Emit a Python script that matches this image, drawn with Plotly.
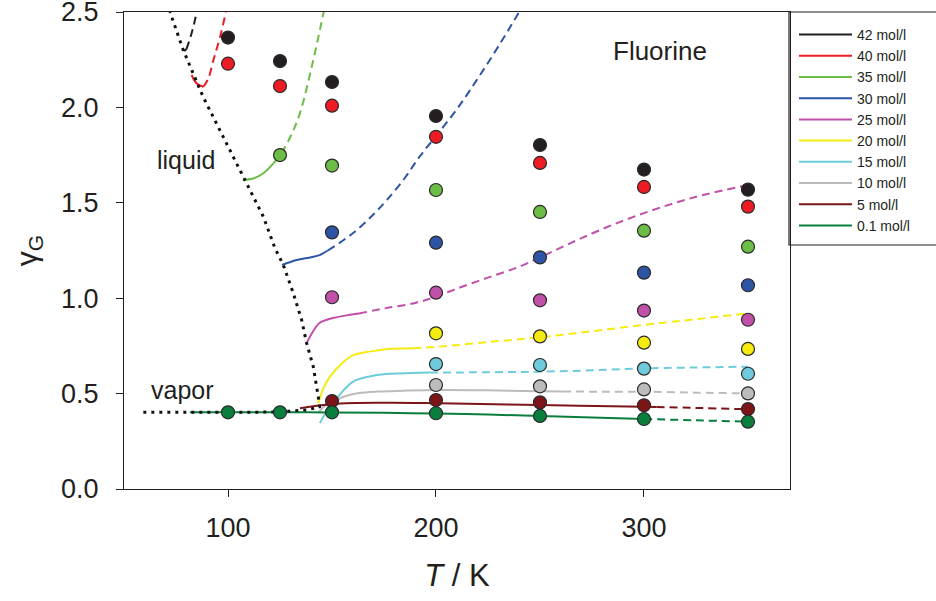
import plotly.graph_objects as go

# ---------------- data ----------------
T_POINTS = [100, 125, 150, 200, 250, 300, 350]

SERIES_NAMES = ["42 mol/l", "40 mol/l", "35 mol/l", "30 mol/l", "25 mol/l",
                "20 mol/l", "15 mol/l", "10 mol/l", "5 mol/l", "0.1 mol/l"]
SERIES_COLORS = ["#231f20", "#ed1c24", "#6cbd45", "#2e55a5", "#c050a8",
                 "#f5eb10", "#6dcbdc", "#bcbcbc", "#7d1518", "#0a7f3d"]

# simulation points (gamma_G at T_POINTS)
pts_42 = [2.366, 2.243, 2.133, 1.955, 1.803, 1.674, 1.569]
pts_40 = [2.229, 2.112, 2.009, 1.846, 1.709, 1.583, 1.480]
pts_35 = [None, 1.750, 1.695, 1.567, 1.452, 1.354, 1.270]
pts_30 = [None, None, 1.345, 1.291, 1.214, 1.134, 1.068]
pts_25 = [None, None, 1.005, 1.029, 0.989, 0.935, 0.887]
pts_20 = [None, None, None, 0.816, 0.800, 0.767, 0.734]
pts_15 = [None, None, None, 0.655, 0.650, 0.631, 0.604]
pts_10 = [None, None, None, 0.545, 0.538, 0.522, 0.501]
pts_5 = [None, None, 0.461, 0.466, 0.454, 0.439, 0.419]
pts_01 = [0.402, 0.402, 0.402, 0.397, 0.383, 0.367, 0.353]

# model curves: solid part (T, gamma) and dashed part (T, gamma)
c42_sol_T = [78.5, 79.3, 80.0]
c42_sol_g = [2.300, 2.298, 2.305]
c42_das_T = [80.0, 82.0, 83.5, 85.0]
c42_das_g = [2.305, 2.37, 2.43, 2.50]

c40_sol_T = [82.5, 85.0, 88.1]
c40_sol_g = [2.170, 2.125, 2.108]
c40_das_T = [88.1, 90.5, 93.0, 96.2, 99.0]
c40_das_g = [2.108, 2.150, 2.248, 2.370, 2.500]

c35_sol_T = [107.2, 112.0, 117.0, 121.8]
c35_sol_g = [1.620, 1.627, 1.655, 1.707]
c35_das_T = [121.8, 125.0, 130.0, 134.6, 140.2, 146.0]
c35_das_g = [1.707, 1.750, 1.846, 1.970, 2.210, 2.500]

c30_sol_T = [126.0, 133.0, 140.0, 144.0, 148.0]
c30_sol_g = [1.174, 1.200, 1.215, 1.226, 1.250]
c30_das_T = [148.0, 160.0, 170.0, 176.4, 185.0, 192.0, 200.0, 210.0, 220.0, 230.0, 240.0]
c30_das_g = [1.250, 1.340, 1.440, 1.515, 1.630, 1.740, 1.850, 1.990, 2.150, 2.320, 2.500]

c25_sol_T = [137.8, 140.0, 144.0, 150.5, 157.0, 163.0]
c25_sol_g = [0.764, 0.810, 0.870, 0.896, 0.910, 0.920]
c25_das_T = [163.0, 176.0, 190.0, 200.0, 210.0, 225.0, 240.0, 250.0, 260.0, 270.0,
             285.0, 300.0, 315.0, 330.0, 350.0]
c25_das_g = [0.920, 0.948, 0.975, 1.008, 1.050, 1.108, 1.165, 1.214, 1.265, 1.315,
             1.385, 1.446, 1.500, 1.545, 1.593]

c20_sol_T = [143.4, 146.0, 149.0, 155.0, 160.0, 168.0, 176.0, 189.0]
c20_sol_g = [0.449, 0.530, 0.589, 0.660, 0.700, 0.720, 0.733, 0.738]
c20_das_T = [189.0, 200.0, 225.0, 250.0, 275.0, 300.0, 325.0, 350.0]
c20_das_g = [0.738, 0.745, 0.770, 0.795, 0.827, 0.860, 0.890, 0.921]

c15_sol_T = [144.2, 147.0, 150.5, 155.0, 160.0, 168.0, 176.0, 188.0, 197.0]
c15_sol_g = [0.346, 0.400, 0.450, 0.510, 0.562, 0.590, 0.603, 0.608, 0.610]
c15_das_T = [197.0, 225.0, 250.0, 275.0, 300.0, 325.0, 350.0]
c15_das_g = [0.610, 0.612, 0.615, 0.622, 0.632, 0.637, 0.641]

c10_sol_T = [143.3, 146.0, 150.5, 156.0, 163.0, 172.0, 184.0, 202.0, 225.0, 250.0, 261.0]
c10_sol_g = [0.398, 0.430, 0.458, 0.485, 0.503, 0.511, 0.515, 0.519, 0.517, 0.512, 0.511]
c10_das_T = [261.0, 280.0, 300.0, 325.0, 350.0]
c10_das_g = [0.511, 0.510, 0.510, 0.505, 0.501]

c5_sol_T = [134.6, 150.5, 176.0, 202.0, 250.0, 300.0, 306.0]
c5_sol_g = [0.423, 0.446, 0.452, 0.449, 0.440, 0.431, 0.430]
c5_das_T = [306.0, 325.0, 350.0]
c5_das_g = [0.430, 0.425, 0.418]

c01_sol_T = [81.7, 100.0, 125.0, 150.0, 175.0, 200.0, 225.0, 250.0, 275.0, 300.0]
c01_sol_g = [0.402, 0.402, 0.402, 0.401, 0.399, 0.396, 0.390, 0.383, 0.375, 0.367]
c01_das_T = [300.0, 325.0, 350.0]
c01_das_g = [0.367, 0.360, 0.353]

# saturation (vapor + liquid branch), dotted
sat_T = [59.3, 80.0, 100.0, 120.0, 130.0, 138.0, 144.0,
         143.4, 141.0, 137.8, 135.4, 131.4, 126.6, 122.6, 117.0, 106.6, 96.0, 88.0, 78.5, 72.1]
sat_g = [0.402, 0.402, 0.402, 0.403, 0.408, 0.415, 0.430,
         0.484, 0.641, 0.765, 0.886, 1.026, 1.174, 1.262, 1.427, 1.655, 1.880, 2.056, 2.300, 2.500]

X_TICKS = [100, 200, 300]
Y_TICKS = [0.0, 0.5, 1.0, 1.5, 2.0, 2.5]

POINTS = [pts_42, pts_40, pts_35, pts_30, pts_25, pts_20, pts_15, pts_10, pts_5, pts_01]
SOLID = [(c42_sol_T, c42_sol_g), (c40_sol_T, c40_sol_g), (c35_sol_T, c35_sol_g),
         (c30_sol_T, c30_sol_g), (c25_sol_T, c25_sol_g), (c20_sol_T, c20_sol_g),
         (c15_sol_T, c15_sol_g), (c10_sol_T, c10_sol_g), (c5_sol_T, c5_sol_g),
         (c01_sol_T, c01_sol_g)]
DASHED = [(c42_das_T, c42_das_g), (c40_das_T, c40_das_g), (c35_das_T, c35_das_g),
          (c30_das_T, c30_das_g), (c25_das_T, c25_das_g), (c20_das_T, c20_das_g),
          (c15_das_T, c15_das_g), (c10_das_T, c10_das_g), (c5_das_T, c5_das_g),
          (c01_das_T, c01_das_g)]

# ---------------- figure ----------------
FONT = "Liberation Sans, Arial, sans-serif"
TXT = "#231f20"

fig = go.Figure()

for name, col, (sx, sy) in zip(SERIES_NAMES, SERIES_COLORS, SOLID):
    fig.add_trace(go.Scatter(x=sx, y=sy, mode="lines", name=name, legendgroup=name,
                             line=dict(color=col, width=2, shape="spline"),
                             showlegend=True, hoverinfo="skip"))
for name, col, (dx, dy) in zip(SERIES_NAMES, SERIES_COLORS, DASHED):
    fig.add_trace(go.Scatter(x=dx, y=dy, mode="lines", name=name, legendgroup=name,
                             line=dict(color=col, width=2, dash="8px,5px", shape="spline"),
                             showlegend=False, hoverinfo="skip"))

fig.add_trace(go.Scatter(x=sat_T, y=sat_g, mode="lines", showlegend=False,
                         line=dict(color="#111111", width=3, dash="3px,5px"),
                         hoverinfo="skip"))

for name, col, pts in zip(SERIES_NAMES, SERIES_COLORS, POINTS):
    fig.add_trace(go.Scatter(x=T_POINTS, y=pts, mode="markers", name=name, legendgroup=name,
                             marker=dict(color=col, size=13,
                                         line=dict(color="#2a2a2a", width=1.2)),
                             showlegend=False))

W, H = 936, 601
ML, MR, MT, MB = 124, 146, 12, 112
PW, PH = W - ML - MR, H - MT - MB


def px2paper(px, py):
    return (px - ML) / PW, (H - MB - py) / PH


lx0, ly0 = px2paper(789, 245)
lx1, ly1 = px2paper(1000, 12)
leg_x, leg_y = px2paper(794, 19)

fig.update_layout(
    width=W, height=H,
    margin=dict(l=ML, r=MR, t=MT, b=MB, pad=0, autoexpand=False),
    paper_bgcolor="white", plot_bgcolor="white",
    font=dict(family=FONT, color=TXT, size=20),
    showlegend=True,
    legend=dict(x=leg_x, y=leg_y, xanchor="left", yanchor="top",
                bgcolor="rgba(0,0,0,0)", borderwidth=0,
                font=dict(family=FONT, size=14, color=TXT),
                itemwidth=53, tracegroupgap=0),
    xaxis=dict(range=[50, 370.2], tickvals=X_TICKS, ticks="outside", ticklen=7,
               tickwidth=1, tickcolor=TXT, showline=True, linecolor=TXT, linewidth=1.2,
               mirror=True, showgrid=False, zeroline=False, automargin=False,
               tickfont=dict(size=27, family=FONT, color=TXT), ticklabelstandoff=7,
               title=dict(text="<i>T</i> / K", font=dict(size=31, family=FONT, color=TXT),
                          standoff=22)),
    yaxis=dict(range=[0, 2.5], tickvals=Y_TICKS, tickformat=".1f", ticks="outside",
               ticklen=7, tickwidth=1, tickcolor=TXT, showline=True, linecolor=TXT,
               linewidth=1.2, mirror=True, showgrid=False, zeroline=False,
               ticklabeloverflow="allow", automargin=False,
               tickfont=dict(size=27, family=FONT, color=TXT), ticklabelstandoff=12,
               title=dict(text="γ<sub>G</sub>", font=dict(size=30, family=FONT, color=TXT),
                          standoff=14)),
    shapes=[dict(type="rect", xref="paper", yref="paper", x0=lx0, x1=lx1, y0=ly0, y1=ly1,
                 line=dict(color=TXT, width=1.2), fillcolor="rgba(0,0,0,0)", layer="above")],
    annotations=[
        dict(x=307.9, y=2.296, xref="x", yref="y", text="Fluorine", showarrow=False,
             font=dict(size=26, family=FONT, color=TXT)),
        dict(x=80.0, y=1.722, xref="x", yref="y", text="liquid", showarrow=False,
             font=dict(size=25, family=FONT, color=TXT)),
        dict(x=78.1, y=0.519, xref="x", yref="y", text="vapor", showarrow=False,
             font=dict(size=25, family=FONT, color=TXT)),
    ],
)

fig.write_html("out.html")
